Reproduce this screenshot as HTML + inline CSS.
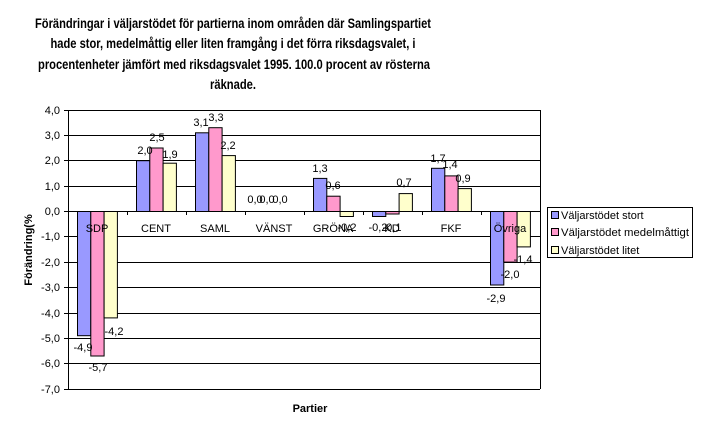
<!DOCTYPE html>
<html><head><meta charset="utf-8"><style>
html,body{margin:0;padding:0;background:#fff;}
svg{display:block;font-family:"Liberation Sans",Arial,sans-serif;}
</style></head><body>
<svg width="704" height="436" viewBox="0 0 704 436" xmlns="http://www.w3.org/2000/svg">
<rect width="704" height="436" fill="#fff"/>
<g font-weight="bold" font-size="14" text-anchor="middle" fill="#000">
<text x="233" y="28" textLength="396" lengthAdjust="spacingAndGlyphs">Förändringar i väljarstödet för partierna inom områden där Samlingspartiet</text>
<text x="233" y="48" textLength="365" lengthAdjust="spacingAndGlyphs">hade stor, medelmåttig eller liten framgång i det förra riksdagsvalet, i</text>
<text x="234" y="69" textLength="392" lengthAdjust="spacingAndGlyphs">procentenheter jämfört med riksdagsvalet 1995. 100.0 procent av rösterna</text>
<text x="233" y="89" textLength="46" lengthAdjust="spacingAndGlyphs">räknade.</text>
</g>
<g stroke="#000" stroke-width="1">
<line x1="68" y1="110.5" x2="540" y2="110.5"/>
<line x1="68" y1="135.5" x2="540" y2="135.5"/>
<line x1="68" y1="160.5" x2="540" y2="160.5"/>
<line x1="68" y1="186.5" x2="540" y2="186.5"/>
<line x1="68" y1="236.5" x2="540" y2="236.5"/>
<line x1="68" y1="262.5" x2="540" y2="262.5"/>
<line x1="68" y1="287.5" x2="540" y2="287.5"/>
<line x1="68" y1="313.5" x2="540" y2="313.5"/>
<line x1="68" y1="338.5" x2="540" y2="338.5"/>
<line x1="68" y1="363.5" x2="540" y2="363.5"/>
<line x1="68" y1="389.5" x2="540" y2="389.5"/>
<line x1="540.5" y1="110" x2="540.5" y2="389"/>
<line x1="68.5" y1="110" x2="68.5" y2="389"/>
</g>
<g stroke="#000" stroke-width="1">
<line x1="64" y1="110.5" x2="68" y2="110.5"/><line x1="64" y1="135.5" x2="68" y2="135.5"/><line x1="64" y1="160.5" x2="68" y2="160.5"/><line x1="64" y1="186.5" x2="68" y2="186.5"/><line x1="64" y1="211.5" x2="68" y2="211.5"/><line x1="64" y1="236.5" x2="68" y2="236.5"/><line x1="64" y1="262.5" x2="68" y2="262.5"/><line x1="64" y1="287.5" x2="68" y2="287.5"/><line x1="64" y1="313.5" x2="68" y2="313.5"/><line x1="64" y1="338.5" x2="68" y2="338.5"/><line x1="64" y1="363.5" x2="68" y2="363.5"/><line x1="64" y1="389.5" x2="68" y2="389.5"/>
</g>
<g font-size="11" text-anchor="end" fill="#000">
<text x="60" y="114">4,0</text><text x="60" y="139">3,0</text><text x="60" y="164">2,0</text><text x="60" y="190">1,0</text><text x="60" y="215">0,0</text><text x="60" y="240">-1,0</text><text x="60" y="266">-2,0</text><text x="60" y="291">-3,0</text><text x="60" y="317">-4,0</text><text x="60" y="342">-5,0</text><text x="60" y="367">-6,0</text><text x="60" y="393">-7,0</text>
</g>
<text transform="translate(32,250) rotate(-90)" font-size="11" font-weight="bold" text-anchor="middle">Förändring(%</text>
<text x="310" y="412" font-size="11" font-weight="bold" text-anchor="middle">Partier</text>
<g stroke="#000" stroke-width="1">
<rect x="77.5" y="211.5" width="13.3" height="124.2" fill="#9999FF"/>
<rect x="90.8" y="211.5" width="13.3" height="144.5" fill="#FF99CC"/>
<rect x="104.1" y="211.5" width="13.3" height="106.4" fill="#FFFFCC"/>
<rect x="136.5" y="160.7" width="13.3" height="50.8" fill="#9999FF"/>
<rect x="149.8" y="148" width="13.3" height="63.5" fill="#FF99CC"/>
<rect x="163.1" y="163.2" width="13.3" height="48.3" fill="#FFFFCC"/>
<rect x="195.5" y="132.8" width="13.3" height="78.7" fill="#9999FF"/>
<rect x="208.8" y="127.7" width="13.3" height="83.8" fill="#FF99CC"/>
<rect x="222.1" y="155.6" width="13.3" height="55.9" fill="#FFFFCC"/>
<rect x="313.5" y="178.4" width="13.3" height="33.1" fill="#9999FF"/>
<rect x="326.8" y="196.2" width="13.3" height="15.3" fill="#FF99CC"/>
<rect x="340.1" y="211.5" width="13.3" height="5" fill="#FFFFCC"/>
<rect x="372.5" y="211.5" width="13.3" height="5" fill="#9999FF"/>
<rect x="385.8" y="211.5" width="13.3" height="2.5" fill="#FF99CC"/>
<rect x="399.1" y="193.6" width="13.3" height="17.9" fill="#FFFFCC"/>
<rect x="431.5" y="168.3" width="13.3" height="43.2" fill="#9999FF"/>
<rect x="444.8" y="175.9" width="13.3" height="35.6" fill="#FF99CC"/>
<rect x="458.1" y="188.6" width="13.3" height="22.9" fill="#FFFFCC"/>
<rect x="490.5" y="211.5" width="13.3" height="73.5" fill="#9999FF"/>
<rect x="503.8" y="211.5" width="13.3" height="50.6" fill="#FF99CC"/>
<rect x="517.1" y="211.5" width="13.3" height="35.4" fill="#FFFFCC"/>
</g>
<line x1="68" y1="211.5" x2="540" y2="211.5" stroke="#000"/>
<g stroke="#000"><line x1="127.5" y1="211" x2="127.5" y2="215"/><line x1="186.5" y1="211" x2="186.5" y2="215"/><line x1="245.5" y1="211" x2="245.5" y2="215"/><line x1="304.5" y1="211" x2="304.5" y2="215"/><line x1="363.5" y1="211" x2="363.5" y2="215"/><line x1="422.5" y1="211" x2="422.5" y2="215"/><line x1="481.5" y1="211" x2="481.5" y2="215"/></g>
<g font-size="11" text-anchor="middle" fill="#000">
<text x="97" y="232">SDP</text><text x="156" y="232">CENT</text><text x="215" y="232">SAML</text><text x="274" y="232">VÄNST</text><text x="333" y="232">GRÖNA</text><text x="392" y="232">KD</text><text x="451" y="232">FKF</text><text x="510" y="232">Övriga</text>
</g>
<g font-size="11" text-anchor="middle" fill="#000">
<text x="83" y="351">-4,9</text><text x="98" y="371">-5,7</text><text x="114" y="335">-4,2</text>
<text x="145" y="154">2,0</text><text x="157" y="141">2,5</text><text x="170" y="158">1,9</text>
<text x="201" y="126">3,1</text><text x="216" y="121">3,3</text><text x="228" y="149">2,2</text>
<text x="255" y="203">0,0</text><text x="267" y="203">0,0</text><text x="280" y="203">0,0</text>
<text x="320" y="172">1,3</text><text x="333" y="189">0,6</text><text x="347" y="231">-0,2</text>
<text x="378" y="231">-0,2</text><text x="392" y="231">-0,1</text><text x="404" y="186">0,7</text>
<text x="438" y="162">1,7</text><text x="450" y="168">1,4</text><text x="463" y="182">0,9</text>
<text x="496" y="302">-2,9</text><text x="510" y="278">-2,0</text><text x="523" y="263">-1,4</text>
</g>
<rect x="547.5" y="207.5" width="145" height="50" fill="#fff" stroke="#000"/>
<g stroke="#000"><rect x="551.5" y="211.5" width="7" height="7" fill="#9999FF"/><rect x="551.5" y="228.5" width="7" height="7" fill="#FF99CC"/><rect x="551.5" y="246.5" width="7" height="7" fill="#FFFFCC"/></g>
<g font-size="11" fill="#000">
<text x="561" y="219">Väljarstödet stort</text>
<text x="561" y="236" textLength="128" lengthAdjust="spacingAndGlyphs">Väljarstödet medelmåttigt</text>
<text x="561" y="254">Väljarstödet litet</text>
</g>
</svg>
</body></html>
